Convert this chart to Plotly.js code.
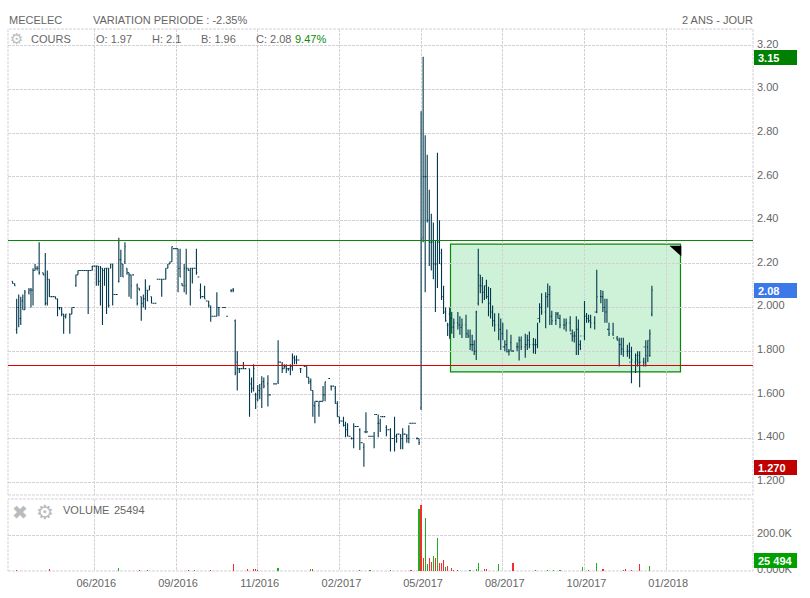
<!DOCTYPE html>
<html><head><meta charset="utf-8">
<script src="https://cdn.plot.ly/plotly-3.0.1.min.js"></script>
<style>html,body{margin:0;padding:0;background:#fff}#c{width:810px;height:598px}</style>
</head><body><div id="c"></div>
<script>
const sessionTicks = [40,80,120,160,200,240,280,320];
const sessionLabels = ['06/2016','09/2016','11/2016','02/2017','05/2017','08/2017','10/2017','01/2018'];

const barIndex = [
0,1,2,3,4,5,6,8,9,10,11,12,13,15,16,17,18,19,20,21,22,23,24,25,26,28,29,30,31,32,33,34,35,36,37,38,39,40,41,42,43,44,45,46,47,48,49,50,51,52,
53,54,55,56,57,58,59,61,62,63,64,65,66,67,68,69,70,71,72,73,74,75,76,77,78,79,80,81,82,83,84,85,86,87,88,89,90,91,92,93,94,95,96,97,98,99,100,101,103,104,
105,107,108,109,110,111,112,113,114,116,117,118,119,120,121,122,123,125,126,128,129,130,131,132,133,134,135,136,137,138,139,140,141,143,144,145,146,147,148,149,150,151,152,153,155,156,157,158,159,160,
161,162,163,164,165,166,167,168,169,170,171,172,173,174,175,176,177,178,179,180,181,182,183,184,185,186,187,188,189,190,191,192,193,194,195,196,197,198,199,200,201,202,203,204,205,206,207,208,209,210,
211,212,213,214,215,216,218,219,220,222,223,224,225,226,227,228,229,230,231,232,233,234,235,236,238,239,240,241,242,243,244,245,247,248,249,251,252,253,255,256,257,258,259,261,262,263,264,266,267,268,
270,271,273,274,275,276,277,278,280,281,282,283,285,286,288,289,290,291,292,294,296,297,298,299,301,302,303,305,306,307,309,310,311,312,313];

const highPrice = [
2.12,2.11,2.04,2.06,2.05,2.06,2.08,2.09,2.09,2.18,2.20,2.19,2.30,2.16,2.25,2.17,2.13,2.05,2.05,2.05,2.04,2.00,2.00,1.97,1.97,1.97,2.00,2.00,2.15,2.17,2.17,2.17,2.17,2.17,2.17,2.17,2.19,2.19,2.19,2.19,2.19,2.18,2.18,2.18,2.18,2.20,2.20,2.06,2.06,2.32,
2.265,2.20,2.30,2.18,2.16,2.15,2.15,2.11,2.09,2.05,2.06,2.13,2.08,2.10,2.05,2.02,2.02,2.13,2.13,2.13,2.13,2.18,2.20,2.21,2.28,2.27,2.27,2.27,2.27,2.11,2.20,2.27,2.18,2.18,2.18,2.18,2.27,2.14,2.11,2.05,2.10,2.03,2.03,2.01,1.96,1.96,2.07,2.00,2.00,2.00,
1.96,2.08,2.09,1.945,1.80,1.72,1.72,1.75,1.72,1.72,1.68,1.74,1.61,1.645,1.65,1.685,1.68,1.69,1.60,1.65,1.65,1.85,1.75,1.75,1.74,1.74,1.72,1.74,1.79,1.78,1.78,1.76,1.72,1.73,1.73,1.68,1.675,1.62,1.57,1.57,1.57,1.57,1.64,1.66,1.675,1.64,1.64,1.64,1.57,1.50,
1.48,1.50,1.477,1.47,1.41,1.405,1.47,1.455,1.455,1.447,1.38,1.378,1.52,1.43,1.41,1.41,1.43,1.51,1.51,1.49,1.50,1.50,1.46,1.44,1.447,1.40,1.50,1.42,1.42,1.42,1.447,1.42,1.42,1.46,1.47,1.47,1.47,1.405,1.40,2.90,3.15,2.79,2.70,2.54,2.43,2.39,2.31,2.71,2.40,2.27,
2.10,2.00,1.93,2.00,1.98,1.95,1.98,1.96,1.95,1.967,1.90,1.90,1.875,1.85,1.985,2.27,2.15,2.14,2.10,2.127,2.096,2.09,2.01,1.974,1.974,1.95,1.93,1.85,1.90,1.81,1.875,1.805,1.84,1.867,1.867,1.88,1.875,1.89,1.86,1.857,1.93,2.02,2.066,2.07,2.11,2.10,1.985,1.98,1.98,1.967,
1.95,1.95,1.96,1.90,1.89,1.96,1.945,1.85,2.03,1.975,1.967,1.967,1.96,2.173,2.08,2.077,2.04,2.04,1.93,1.93,1.87,1.862,1.862,1.862,1.83,1.84,1.82,1.79,1.80,1.80,1.77,1.85,1.85,1.90,2.10];

const lowPrice = [
2.11,2.10,1.88,1.91,1.92,1.99,1.99,2.06,2.00,2.01,2.17,2.17,2.15,2.15,2.01,2.01,2.05,2.05,2.05,2.04,1.96,1.99,1.96,1.88,1.95,1.88,1.97,2.00,2.095,2.15,2.17,2.17,2.17,2.17,1.97,2.17,2.17,2.19,2.10,2.10,2.01,1.92,2.10,1.97,2.00,2.18,2.01,2.06,2.06,2.115,
2.14,2.14,2.20,2.15,2.05,2.04,2.15,2.01,2.08,1.94,2.00,1.99,2.03,2.08,2.02,2.02,2.02,2.13,2.13,2.05,2.13,2.13,2.18,2.20,2.21,2.27,2.27,2.07,2.14,2.10,2.07,2.06,2.17,2.01,2.11,2.18,2.15,2.14,2.04,2.05,2.04,2.03,2.00,1.935,1.96,1.96,1.96,1.96,2.00,2.00,
1.96,2.07,2.07,1.69,1.62,1.70,1.72,1.72,1.72,1.50,1.61,1.615,1.535,1.57,1.58,1.54,1.63,1.546,1.60,1.65,1.65,1.65,1.75,1.70,1.72,1.70,1.71,1.69,1.71,1.74,1.74,1.76,1.70,1.73,1.68,1.65,1.62,1.50,1.47,1.57,1.50,1.57,1.57,1.57,1.675,1.62,1.64,1.56,1.50,1.467,
1.48,1.455,1.405,1.41,1.41,1.395,1.355,1.455,1.455,1.347,1.38,1.27,1.424,1.43,1.41,1.41,1.355,1.51,1.405,1.43,1.50,1.50,1.41,1.44,1.34,1.40,1.34,1.38,1.42,1.35,1.35,1.42,1.38,1.378,1.47,1.47,1.47,1.395,1.37,1.53,2.30,2.07,2.39,2.19,2.17,2.13,1.98,2.09,2.20,2.035,
1.97,1.935,1.87,1.857,1.88,1.86,1.90,1.875,1.86,1.86,1.86,1.805,1.80,1.783,1.76,2.01,2.066,2.02,2.035,2.04,1.96,1.95,1.913,1.89,1.85,1.806,1.85,1.80,1.794,1.78,1.80,1.80,1.80,1.757,1.805,1.77,1.805,1.814,1.79,1.787,1.814,1.93,1.967,1.905,2.00,1.92,1.92,1.92,1.95,1.905,
1.90,1.89,1.89,1.845,1.84,1.783,1.783,1.805,1.85,1.93,1.93,1.905,1.90,1.974,2.02,1.98,1.93,1.93,1.87,1.87,1.85,1.73,1.783,1.775,1.775,1.765,1.653,1.70,1.73,1.635,1.73,1.73,1.75,1.775,1.96];

const openPrice = [
2.12,2.11,1.90,2.00,1.95,2.03,1.99,2.07,2.08,2.08,2.17,2.18,2.18,2.16,2.15,2.02,2.13,2.05,2.05,2.05,2.04,2.00,2.00,1.97,1.96,1.97,1.97,2.00,2.10,2.15,2.17,2.17,2.17,2.17,2.17,2.17,2.17,2.19,2.19,2.19,2.12,2.18,2.17,2.18,2.18,2.18,2.20,2.06,2.06,2.12,
2.22,2.20,2.21,2.18,2.16,2.15,2.15,2.10,2.09,2.05,2.02,2.04,2.08,2.08,2.05,2.02,2.02,2.13,2.13,2.13,2.13,2.13,2.18,2.20,2.21,2.27,2.27,2.27,2.18,2.11,2.10,2.10,2.18,2.17,2.18,2.18,2.18,2.14,2.08,2.05,2.05,2.03,2.03,2.00,1.96,1.96,1.96,2.00,2.00,2.00,
1.96,2.08,2.08,1.94,1.75,1.72,1.72,1.72,1.72,1.72,1.65,1.63,1.60,1.60,1.62,1.65,1.66,1.65,1.60,1.65,1.65,1.66,1.75,1.74,1.72,1.73,1.72,1.72,1.73,1.77,1.76,1.76,1.72,1.73,1.73,1.68,1.66,1.62,1.55,1.57,1.55,1.57,1.57,1.60,1.675,1.64,1.64,1.63,1.56,1.50,
1.48,1.48,1.46,1.44,1.41,1.40,1.40,1.455,1.455,1.44,1.38,1.36,1.43,1.43,1.41,1.41,1.41,1.51,1.47,1.47,1.50,1.50,1.45,1.44,1.44,1.40,1.40,1.41,1.42,1.41,1.40,1.42,1.41,1.40,1.47,1.47,1.47,1.40,1.40,1.54,2.32,2.60,2.60,2.40,2.30,2.30,2.20,2.20,2.30,2.20,
2.05,1.98,1.92,1.97,1.95,1.91,1.93,1.92,1.91,1.92,1.88,1.87,1.83,1.83,1.80,2.02,2.10,2.10,2.07,2.10,2.05,2.02,1.98,1.94,1.92,1.90,1.88,1.82,1.83,1.80,1.84,1.80,1.82,1.82,1.85,1.82,1.83,1.85,1.83,1.83,1.83,1.95,2.00,1.98,2.05,2.06,1.96,1.94,1.97,1.95,
1.92,1.92,1.93,1.88,1.87,1.87,1.90,1.83,1.87,1.96,1.95,1.94,1.93,1.98,2.05,2.05,2.00,1.98,1.90,1.88,1.86,1.85,1.83,1.81,1.80,1.80,1.80,1.75,1.76,1.78,1.75,1.75,1.82,1.78,1.97];

const closePrice = [
2.11,2.10,2.00,1.95,2.03,1.99,2.07,2.08,2.08,2.17,2.18,2.18,2.16,2.15,2.02,2.13,2.05,2.05,2.05,2.04,2.00,2.00,1.97,1.96,1.97,1.97,2.00,2.00,2.15,2.17,2.17,2.17,2.17,2.17,2.17,2.17,2.19,2.19,2.19,2.12,2.18,2.17,2.18,2.18,2.01,2.20,2.06,2.06,2.06,2.22,
2.20,2.14,2.28,2.16,2.15,2.10,2.15,2.02,2.08,2.02,2.04,2.09,2.03,2.10,2.02,2.02,2.02,2.13,2.13,2.13,2.13,2.18,2.20,2.21,2.28,2.27,2.27,2.18,2.14,2.10,2.18,2.18,2.17,2.18,2.18,2.18,2.16,2.14,2.05,2.05,2.04,2.03,2.01,1.96,1.96,1.96,2.00,2.00,2.00,2.00,
1.96,2.08,2.08,1.70,1.72,1.72,1.72,1.72,1.72,1.65,1.63,1.72,1.58,1.62,1.63,1.66,1.64,1.60,1.60,1.65,1.65,1.75,1.75,1.72,1.73,1.72,1.72,1.73,1.77,1.76,1.76,1.76,1.72,1.73,1.68,1.66,1.62,1.55,1.57,1.57,1.57,1.57,1.60,1.66,1.675,1.64,1.64,1.56,1.50,1.48,
1.48,1.46,1.44,1.41,1.41,1.40,1.455,1.455,1.455,1.38,1.38,1.43,1.43,1.41,1.41,1.41,1.51,1.51,1.47,1.50,1.50,1.50,1.44,1.44,1.40,1.40,1.41,1.42,1.42,1.40,1.42,1.42,1.40,1.47,1.47,1.47,1.47,1.40,1.38,2.31,2.60,2.60,2.40,2.30,2.30,2.20,2.20,2.30,2.25,2.05,
1.98,1.94,1.92,1.95,1.91,1.93,1.92,1.91,1.92,1.88,1.87,1.83,1.83,1.80,1.98,2.15,2.10,2.07,2.10,2.05,2.02,1.98,1.94,1.92,1.90,1.88,1.82,1.83,1.80,1.80,1.80,1.80,1.82,1.85,1.82,1.83,1.85,1.83,1.83,1.83,1.95,2.00,1.98,2.05,2.06,1.96,1.94,1.97,1.95,1.92,
1.92,1.93,1.88,1.87,1.87,1.90,1.83,1.87,1.96,1.95,1.94,1.93,1.98,2.05,2.05,2.00,1.98,1.90,1.88,1.86,1.85,1.83,1.81,1.80,1.80,1.75,1.76,1.78,1.75,1.75,1.82,1.78,1.85,1.88,2.08];

const volumeIndex = [2,5,12,18,20,45,48,52,58,62,66,70,75,86,89,97,108,115,118,119,120,123,125,130,134,138,142,146,147,152,157,162,165,170,175,180,185,190,195,199,200,201,202,203,204,205,206,207,208,209,210,211,212,213,215,216,218,221,224,227,228,231,232,238,245,250,256,262,265,268,271,274,279,282,286,289,293,296,299,300,303,307,312];
const volumeK = [4,2,2,10,2,2,2,15,2,3,6,2,2,6,3,4,41,13,9,9,7,2,2,18,2,2,2,9,13,2,2,2,2,3,3,2,3,2,3,346,370,74,296,41,74,50,83,74,185,44,44,59,22,28,18,6,7,2,7,11,46,9,13,41,46,2,3,3,3,3,2,2,22,3,46,9,2,2,7,9,7,41,25.494];
const volumeUp = [0,0,1,0,0,0,0,1,1,0,1,1,1,0,1,0,0,0,0,0,0,1,1,1,1,1,0,1,0,0,0,0,1,1,1,1,1,0,0,1,0,0,1,1,0,0,1,0,1,0,0,0,1,0,0,0,0,1,1,1,1,0,0,1,0,0,1,1,1,1,0,0,1,0,1,0,0,0,1,0,0,0,1];

const upperLine = 2.3074, lowerLine = 1.7344;
const boxX = [214.4,327], boxY = [1.705,2.291];
const wedgeX = [321.6,327.4,327.4], wedgeY = [2.283,2.283,2.235];
const priceTicks = [1.2,1.4,1.6,1.8,2.0,2.2,2.4,2.6,2.8,3.0,3.2];
const priceLabels = ['1.200','1.400','1.600','1.800','2.000','2.20','2.40','2.60','2.80','3.00','3.20'];
const volumeTicks = [0,200000];
const volumeLabels = ['0.000K','200.0K'];

const L=8,R=753,T=29,B=571,MAINB=495,VOLT=499;
const fx=p=>(p-L)/(R-L), fy=p=>(B-p)/(B-T);
const FONT='"Liberation Sans",Arial,sans-serif', GREY='#666', GRID='#d6d1d6';
function txt(px,py,text,o){return Object.assign({xref:'paper',yref:'paper',x:fx(px-0.5),y:fy(py),text:text,showarrow:false,
  xanchor:'left',yanchor:'middle',align:'left',borderpad:0,font:{family:FONT,size:11,color:GREY}},o||{});}
function badge(y0,y1,color,label){return {
  s:{type:'rect',xref:'paper',yref:'paper',x0:fx(754),x1:fx(797),y0:fy(y1),y1:fy(y0),fillcolor:color,line:{width:0},layer:'above'},
  a:txt(757,(y0+y1)/2,label,{font:{family:FONT,size:11,color:'#fff',weight:'bold'}})};}
const badges=[badge(50,65,'#008000','3.15'),badge(283,298,'#3b78e8','2.08'),badge(460,475,'#c00000','1.270'),badge(553,568,'#00a000','25 494')];
function frame(y0,y1){return {type:'rect',xref:'paper',yref:'paper',x0:0,x1:1,y0:fy(y1),y1:fy(y0),line:{color:GRID,width:1,dash:'3px,1px'},layer:'below'};}

const shapes=[
 frame(T,MAINB),frame(VOLT,B),
 {type:'rect',xref:'x',yref:'y',x0:boxX[0],x1:boxX[1],y0:boxY[0],y1:boxY[1],fillcolor:'rgba(50,200,90,0.24)',line:{color:'#0a860a',width:1.2},layer:'below'},
 {type:'line',xref:'paper',yref:'y',x0:0,x1:1,y0:upperLine,y1:upperLine,line:{color:'#0a860a',width:1},layer:'above'},
 {type:'line',xref:'paper',yref:'y',x0:0,x1:1,y0:lowerLine,y1:lowerLine,line:{color:'#e00000',width:1},layer:'above'},
 {type:'path',xref:'x',yref:'y',path:'M'+wedgeX[0]+','+wedgeY[0]+' L'+wedgeX[1]+','+wedgeY[1]+' L'+wedgeX[2]+','+wedgeY[2]+' Z',fillcolor:'#000',line:{width:0},layer:'above'}
].concat(badges.map(b=>b.s));

const annotations=[
 txt(8,20,'MECELEC'),txt(92,20,'VARIATION PERIODE : -2.35%'),
 txt(754,20,'2 ANS - JOUR',{xanchor:'right'}),
 txt(9,39,'⚙',{font:{family:'"DejaVu Sans"',size:15,color:'#bbb'}}),
 txt(30,39,'COURS'),txt(95,39,'O: 1.97'),txt(151,39,'H: 2.1'),txt(200,39,'B: 1.96'),txt(255,39,'C: 2.08'),
 txt(294,39,'9.47%',{font:{family:FONT,size:11,color:'#0a8a0a'}}),
 txt(11,512,'✖',{font:{family:'"DejaVu Sans"',size:19,color:'#bbb'}}),
 txt(35,512,'⚙',{font:{family:'"DejaVu Sans"',size:20,color:'#bbb'}}),
 txt(62,510,'VOLUME'),txt(113,510,'25494')
].concat(badges.map(b=>b.a));

const traces=[
 {type:'ohlc',x:barIndex,open:openPrice,high:highPrice,low:lowPrice,close:closePrice,xaxis:'x',yaxis:'y',tickwidth:0.42,
  increasing:{line:{color:'#00384d',width:1.1}},decreasing:{line:{color:'#00384d',width:1.1}},hoverinfo:'skip'},
 {type:'bar',x:volumeIndex,y:volumeK.map(v=>v*1000),xaxis:'x',yaxis:'y2',width:0.62,
  marker:{color:volumeUp.map(u=>u?'#1fae1f':'#f82a2a'),line:{width:0}},hoverinfo:'skip'}
];
const layout={
 width:810,height:598,margin:{l:L,r:810-R,t:T,b:598-B,pad:0},
 paper_bgcolor:'#fff',plot_bgcolor:'#fff',showlegend:false,dragmode:false,bargap:0,
 font:{family:FONT,size:11,color:GREY},
 xaxis:{range:[-2.25,362.5],anchor:'y2',tickmode:'array',tickvals:sessionTicks,ticktext:sessionLabels,ticks:'',ticklen:0,
  showgrid:true,gridcolor:GRID,griddash:'3px,1px',gridwidth:1,zeroline:false,showline:false,rangeslider:{visible:false},
  tickfont:{family:FONT,size:11,color:GREY},ticklabelstandoff:4,ticklabelshift:2,fixedrange:true},
 yaxis:{domain:[fy(MAINB),1],range:[1.1408,3.277],side:'right',anchor:'x',tickmode:'array',tickvals:priceTicks,
  ticktext:priceLabels,ticks:'',
  showgrid:true,gridcolor:GRID,griddash:'3px,1px',gridwidth:1,zeroline:false,showline:false,
  tickfont:{family:FONT,size:11,color:GREY},ticklabelstandoff:3,ticklabelshift:-2,fixedrange:true},
 yaxis2:{domain:[0,fy(VOLT)],range:[0,401700],side:'right',anchor:'x',tickmode:'array',tickvals:volumeTicks,
  ticktext:volumeLabels,ticks:'',showgrid:true,gridcolor:GRID,griddash:'3px,1px',gridwidth:1,zeroline:false,showline:false,
  tickfont:{family:FONT,size:11,color:GREY},ticklabelstandoff:3,ticklabelshift:-2,fixedrange:true},
 shapes:shapes,annotations:annotations
};
Plotly.newPlot('c',traces,layout,{displayModeBar:false,staticPlot:true});
</script></body></html>
